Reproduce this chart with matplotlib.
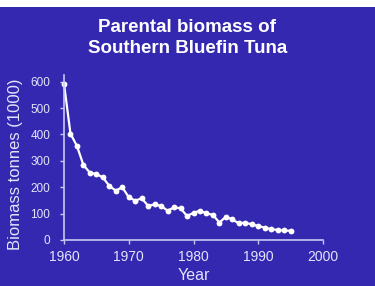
import matplotlib
matplotlib.use("Agg")
import matplotlib.pyplot as plt
from matplotlib.patches import Rectangle

# parental biomass, thousand tonnes
years = list(range(1960, 1996))
biomass = [592, 403, 356, 284, 255, 250, 237, 205, 187, 200,
           162, 149, 158, 129, 135, 129, 111, 124, 120, 91,
           103, 111, 101, 95, 66, 88, 78, 63, 66, 59,
           53, 47, 41, 38, 36, 35]
xticks = [1960, 1970, 1980, 1990, 2000]
yticks = [0, 100, 200, 300, 400, 500, 600]

BG = "#3428b0"
FG = "#ffffff"
AXC = "#c8c8f4"
TXT = "#e4e4fa"
plt.rcParams['font.family'] = ['Liberation Sans', 'DejaVu Sans']

fig = plt.figure(figsize=(3.75, 2.86), dpi=100, facecolor=BG)
# white strip along the top edge
fig.patches.append(Rectangle((0, 1 - 7 / 286.), 1, 7 / 286., transform=fig.transFigure,
                             facecolor="white", edgecolor="none", zorder=0))

ax = fig.add_axes([64 / 375., 1 - 240 / 286., (323 - 64) / 375., (240 - 75) / 286.])
ax.set_facecolor(BG)
ax.plot(years, biomass, color=FG, linewidth=1.6, marker="o", markersize=4.2,
        markeredgewidth=0, clip_on=False)
ax.set_xlim(1960, 2000)
ax.set_ylim(0, 625)
ax.set_xticks(xticks)
ax.set_yticks(yticks)
for s in ["top", "right"]:
    ax.spines[s].set_visible(False)
for s in ["left", "bottom"]:
    ax.spines[s].set_color(AXC)
    ax.spines[s].set_linewidth(1.2)
ax.tick_params(colors=AXC, labelcolor=TXT, length=3, width=1)
ax.tick_params(axis="x", labelsize=10, pad=4)
ax.tick_params(axis="y", labelsize=8.5, pad=7)
ax.set_xlabel("Year", color=TXT, fontsize=11.5, labelpad=3)
ax.set_ylabel("Biomass tonnes (1000)", color=TXT, fontsize=12)
ax.yaxis.set_label_coords(-0.158, 0.46)

fig.text(0.5, 1 - 38 / 286., "Parental biomass of\nSouthern Bluefin Tuna", ha="center",
         va="center", color=FG, fontsize=13.5, fontweight="bold", linespacing=1.25)

fig.savefig("out.png", dpi=100, facecolor=BG)
